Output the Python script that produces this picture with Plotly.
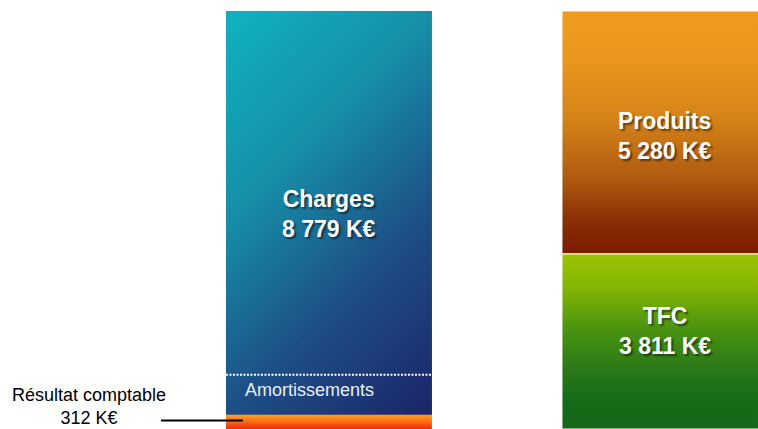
import numpy as np
import plotly.graph_objects as go

# ---------------- Data (K€) ----------------
left_labels = ["Résultat comptable", "Charges"]
left_values = [312, 8779]
right_labels = ["TFC", "Produits"]
right_values = [3811, 5280]
amortissements_value = 870   # estimated height of the "Amortissements" band
bar_positions = [0, 1]        # left bar, right bar

# ---------------- Style ----------------
BAR_W = 0.613
FONT = "Arial, Liberation Sans, sans-serif"
SHADOW = "2px 2px 2px rgba(0,0,0,0.5)"


def fmt(v):
    return f"{v:,}".replace(",", " ") + " K€"


res_v, chg_v = left_values
tfc_v, prd_v = right_values
total = res_v + chg_v

xl0, xl1 = bar_positions[0] - BAR_W / 2, bar_positions[0] + BAR_W / 2
xr0, xr1 = bar_positions[1] - BAR_W / 2, bar_positions[1] + BAR_W / 2

X_RANGE = [-0.979, 1.277]
Y_RANGE = [0, 9330]
W, H = 758, 429

fig = go.Figure()

# ---- Charges: diagonal gradient drawn as a smooth heatmap over the bar extent ----
nx, ny = 24, 48
xe = np.linspace(xl0, xl1, nx + 1)
ye = np.linspace(res_v, total, ny + 1)
xc = (xe[:-1] + xe[1:]) / 2
yc = (ye[:-1] + ye[1:]) / 2
wpx = BAR_W / (X_RANGE[1] - X_RANGE[0]) * W
hpx = chg_v / (Y_RANGE[1] - Y_RANGE[0]) * H
u = (xc - xl0) / BAR_W
v = (total - yc) / chg_v
z = (u[None, :] * wpx + v[:, None] * hpx) / (wpx + hpx)
fig.add_trace(go.Heatmap(
    x=xe, y=ye, z=z, zmin=0, zmax=1, zsmooth="best", showscale=False,
    hoverinfo="skip",
    colorscale=[[0, "#10b2c0"], [0.34, "#1690a8"], [0.66, "#1d4f86"], [1, "#1c2468"]],
))


def rect(x0, x1, y0, y1, scale, line=None, name=""):
    return go.Scatter(
        x=[x0, x1, x1, x0, x0], y=[y0, y0, y1, y1, y0],
        fill="toself", mode="lines" if line else "none",
        line=line or dict(width=0),
        fillgradient=dict(type="vertical", colorscale=scale, start=y0, stop=y1),
        hoverinfo="skip", showlegend=False, name=name,
    )


# Résultat comptable (bottom of left bar)
fig.add_trace(rect(xl0, xl1, 0, res_v,
                   [[0, "#ee2a0c"], [0.5, "#ff6a14"], [1, "#ffa422"]], name=left_labels[0]))

# Right bar: TFC (bottom) and Produits (top)
white = dict(color="white", width=1)
fig.add_trace(rect(xr0, xr1, 0, tfc_v,
                   [[0, "#156818"], [0.17, "#166c18"], [0.34, "#2a7818"], [0.57, "#4a9410"],
                    [0.8, "#84b406"], [1, "#9cc400"]], line=white, name=right_labels[0]))
fig.add_trace(rect(xr0, xr1, tfc_v, tfc_v + prd_v,
                   [[0, "#7a1a00"], [0.145, "#8a3005"], [0.31, "#b05a10"], [0.56, "#d58418"],
                    [0.8, "#eb961c"], [1, "#f09c1e"]], line=white, name=right_labels[1]))

# Amortissements dotted separator
amort_top = res_v + amortissements_value
fig.add_trace(go.Scatter(
    x=[xl0, xl1], y=[amort_top, amort_top], mode="lines",
    line=dict(color="white", width=2, dash="2px,1.5px"),
    hoverinfo="skip", showlegend=False,
))

# Leader line for Résultat comptable
fig.add_shape(type="line", xref="x", yref="y", x0=-0.5, x1=-0.256,
              y0=res_v * 0.6, y1=res_v * 0.6, line=dict(color="black", width=2))

big = dict(family=FONT, size=23, color="white", weight="bold", shadow=SHADOW)
fig.add_annotation(x=bar_positions[0], y=res_v + chg_v / 2, xref="x", yref="y", yshift=-1.5,
                   text=f"<b>{left_labels[1].split()[0]}<br>{fmt(chg_v)}</b>",
                   showarrow=False, font=big, align="center")
fig.add_annotation(x=bar_positions[1], y=tfc_v + prd_v / 2, xref="x", yref="y", yshift=-4,
                   text=f"<b>{right_labels[1]}<br>{fmt(prd_v)}</b>",
                   showarrow=False, font=big, align="center")
fig.add_annotation(x=bar_positions[1], y=tfc_v / 2, xref="x", yref="y", yshift=10.5,
                   text=f"<b>{right_labels[0]}<br>{fmt(tfc_v)}</b>",
                   showarrow=False, font=big, align="center")
fig.add_annotation(x=xl0, y=res_v + amortissements_value / 2, xref="x", yref="y",
                   xanchor="left", xshift=17, yshift=5,
                   text="Amortissements", showarrow=False,
                   font=dict(family=FONT, size=18, color="#e8eef6"))
fig.add_annotation(x=-0.714, y=res_v * 0.6, xref="x", yref="y", yshift=14,
                   text=f"{left_labels[0]}<br>{fmt(res_v)}", showarrow=False,
                   font=dict(family=FONT, size=18, color="black"), align="center")

fig.update_layout(
    width=W, height=H, margin=dict(l=0, r=0, t=0, b=0),
    paper_bgcolor="white", plot_bgcolor="white", showlegend=False,
    xaxis=dict(range=X_RANGE, visible=False, fixedrange=True),
    yaxis=dict(range=Y_RANGE, visible=False, fixedrange=True),
)

fig.write_html("out.html", config={"displayModeBar": False},
               post_script="document.body.style.margin='0px';document.body.style.overflow='hidden';")
